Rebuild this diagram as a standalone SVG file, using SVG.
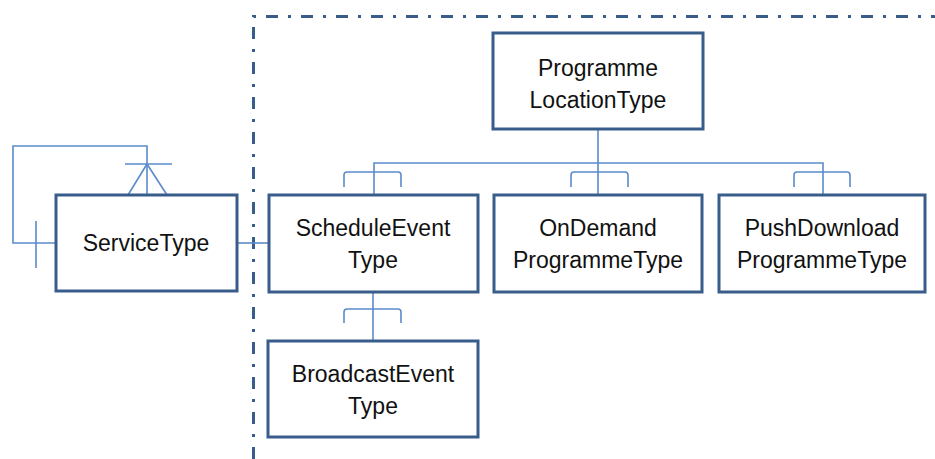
<svg xmlns="http://www.w3.org/2000/svg" width="935" height="459" viewBox="0 0 935 459">
<style>
.box{fill:#fff;stroke:#385D8A;stroke-width:3}
.ln{fill:none;stroke:#5B8BC9;stroke-width:1.6}
.bd{fill:none;stroke:#385D8A;stroke-width:3;stroke-dasharray:12 10 3 10}
text{font-family:"Liberation Sans",Arial,sans-serif;font-size:23px;fill:#111;text-anchor:middle}
</style>
<rect width="935" height="459" fill="#fff"/>
<g id="boundary">
<path class="bd" d="M253.5,459 V16.5 H935"/>
</g>
<g id="connectors">
<path class="ln" d="M147,195 V146 H13 V243 H56"/>
<path class="ln" d="M125,164 H172 M147,164 L128,195 M147,164 L167,195"/>
<path class="ln" d="M36,221 V268"/>
<path class="ln" d="M237,243 H269"/>
<path class="ln" d="M598,129 V195 M374,195 V163 H823 V195"/>
<path class="ln" d="M344,187 V175 Q344,172 347,172 H398 Q401,172 401,175 V187"/>
<path class="ln" d="M571,187 V175 Q571,172 574,172 H625 Q628,172 628,175 V187"/>
<path class="ln" d="M794,187 V175 Q794,172 797,172 H847 Q850,172 850,175 V187"/>
<path class="ln" d="M373,292 V341"/>
<path class="ln" d="M344,323 V312 Q344,309 347,309 H398 Q401,309 401,312 V323"/>
</g>
<g id="ProgrammeLocationType">
<rect class="box" x="493" y="33" width="210" height="96"/>
<text x="598" y="76">Programme</text>
<text x="598" y="108">LocationType</text>
</g>
<g id="ServiceType">
<rect class="box" x="56" y="195" width="181" height="96"/>
<text x="146" y="251">ServiceType</text>
</g>
<g id="ScheduleEventType">
<rect class="box" x="269" y="195" width="209" height="97"/>
<text x="373" y="236">ScheduleEvent</text>
<text x="373" y="268">Type</text>
</g>
<g id="OnDemandProgrammeType">
<rect class="box" x="494" y="195" width="208" height="97"/>
<text x="598" y="236">OnDemand</text>
<text x="598" y="268">ProgrammeType</text>
</g>
<g id="PushDownloadProgrammeType">
<rect class="box" x="719" y="195" width="206" height="97"/>
<text x="822" y="236">PushDownload</text>
<text x="822" y="268">ProgrammeType</text>
</g>
<g id="BroadcastEventType">
<rect class="box" x="268" y="341" width="210" height="96"/>
<text x="373" y="382">BroadcastEvent</text>
<text x="373" y="414">Type</text>
</g>
</svg>
